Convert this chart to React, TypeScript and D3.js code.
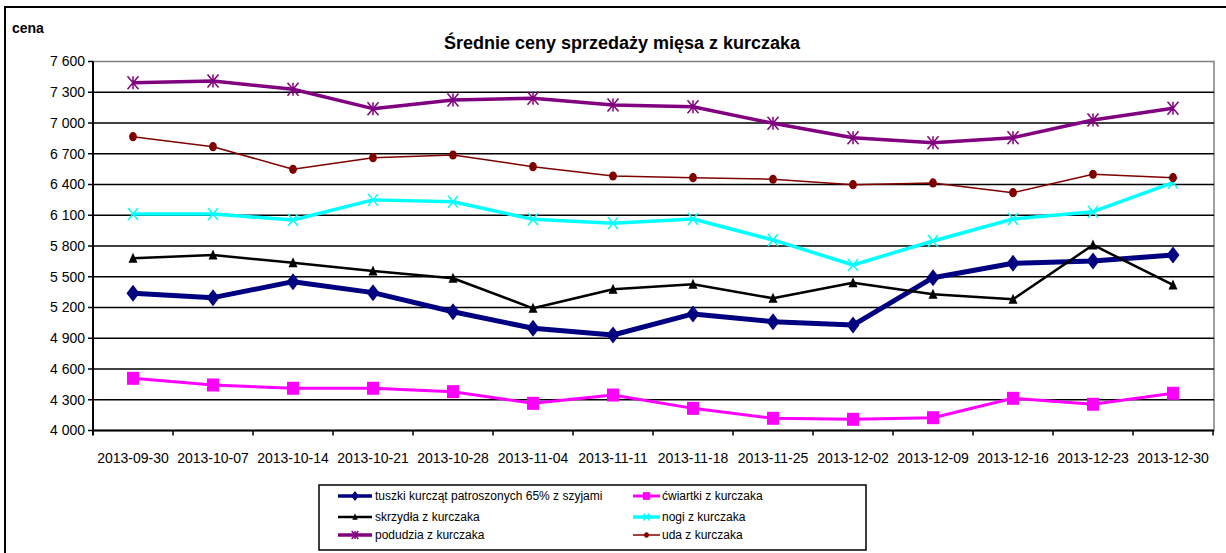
import React from "react";
import { scaleBand, scaleLinear, line, range, format } from "d3";

// chart data
const dates = [
  "2013-09-30", "2013-10-07", "2013-10-14", "2013-10-21", "2013-10-28",
  "2013-11-04", "2013-11-11", "2013-11-18", "2013-11-25", "2013-12-02",
  "2013-12-09", "2013-12-16", "2013-12-23", "2013-12-30",
];
const tuszki = [5338, 5296, 5452, 5345, 5159, 4997, 4932, 5137, 5062, 5029, 5491, 5631, 5654, 5712];
const cwiartki = [4509, 4444, 4412, 4412, 4379, 4265, 4346, 4216, 4119, 4109, 4125, 4314, 4256, 4363];
const skrzydla = [5680, 5712, 5637, 5556, 5485, 5192, 5378, 5426, 5290, 5442, 5329, 5280, 5810, 5420];
const nogi = [6112, 6112, 6054, 6250, 6232, 6060, 6021, 6063, 5859, 5615, 5849, 6063, 6135, 6418];
const podudzia = [7393, 7410, 7329, 7140, 7225, 7241, 7176, 7159, 6997, 6857, 6808, 6857, 7029, 7143];
const uda = [6867, 6769, 6548, 6662, 6688, 6574, 6483, 6467, 6451, 6398, 6415, 6320, 6500, 6467];
const yTicks = range(4000, 7601, 300);

const seriesNames = [
  "tuszki kurcząt patroszonych 65% z szyjami",
  "ćwiartki z kurczaka",
  "skrzydła z kurczaka",
  "nogi z kurczaka",
  "podudzia z kurczaka",
  "uda z kurczaka",
];

const series = [
  { name: seriesNames[0], values: tuszki, color: "#000080", width: 5, marker: "diamond" },
  { name: seriesNames[1], values: cwiartki, color: "#FF00FF", width: 3, marker: "square" },
  { name: seriesNames[2], values: skrzydla, color: "#000000", width: 2.5, marker: "triangle" },
  { name: seriesNames[3], values: nogi, color: "#00FFFF", width: 3.5, marker: "x" },
  { name: seriesNames[4], values: podudzia, color: "#800080", width: 3.5, marker: "star" },
  { name: seriesNames[5], values: uda, color: "#800000", width: 1.5, marker: "circle" },
];

const W = 1226;
const H = 553;
const plot = { left: 93, right: 1214, top: 61.5, bottom: 430.5 };
const font = "'Liberation Sans', Arial, sans-serif";

const x = scaleBand().domain(dates).range([plot.left, 1213]);
const y = scaleLinear().domain([4000, 7600]).range([plot.bottom, plot.top]);
const fmt = (v) => format(",")(v).replace(/,/g, " ");

function Marker({ type, cx, cy, color, s = 1 }) {
  if (type === "diamond") {
    const w = 6.5 * s, h = 8.5 * s;
    return <path d={`M${cx},${cy - h}L${cx + w},${cy}L${cx},${cy + h}L${cx - w},${cy}Z`} fill={color} />;
  }
  if (type === "square") {
    const w = 6 * s, h = 6.5 * s;
    return <rect x={cx - w} y={cy - h} width={2 * w} height={2 * h} fill={color} />;
  }
  if (type === "triangle") {
    const w = 4.5 * s, h = 4.5 * s;
    return <path d={`M${cx},${cy - h - 1}L${cx + w},${cy + h}L${cx - w},${cy + h}Z`} fill={color} />;
  }
  if (type === "x") {
    const w = 5 * s, h = 6 * s;
    return (
      <path d={`M${cx - w},${cy - h}L${cx + w},${cy + h}M${cx - w},${cy + h}L${cx + w},${cy - h}`}
        stroke={color} strokeWidth={1.5} fill="none" />
    );
  }
  if (type === "star") {
    const w = 5.5 * s, h = 6.5 * s;
    return (
      <path d={`M${cx - w},${cy - h}L${cx + w},${cy + h}M${cx - w},${cy + h}L${cx + w},${cy - h}M${cx},${cy - h}L${cx},${cy + h}`}
        stroke={color} strokeWidth={1.5} fill="none" />
    );
  }
  return <ellipse cx={cx} cy={cy} rx={3.9 * s} ry={4.6 * s} fill={color} />;
}

const legendPos = [
  { lx1: 338, lx2: 372, tx: 375, cy: 496 },
  { lx1: 633, lx2: 660, tx: 662, cy: 496 },
  { lx1: 338, lx2: 372, tx: 375, cy: 517 },
  { lx1: 633, lx2: 660, tx: 662, cy: 517 },
  { lx1: 338, lx2: 372, tx: 375, cy: 535 },
  { lx1: 633, lx2: 660, tx: 662, cy: 535 },
];

export default function App() {
  const lineGen = line()
    .x((d, i) => x(dates[i]) + x.bandwidth() / 2)
    .y((d) => y(d));

  return (
    <svg width={W} height={H} style={{ position: "absolute", left: 0, top: 0, background: "#fff" }}
      fontFamily={font}>
      <rect x={0} y={0} width={W} height={H} fill="#fff" />
      {/* outer chart frame */}
      <rect x={5} y={7} width={1250} height={560} fill="none" stroke="#000" strokeWidth={2} />

      <text x={12} y={33} fontSize={14} fontWeight="bold">cena</text>
      <text x={622} y={49} fontSize={18} fontWeight="bold" textAnchor="middle">
        Średnie ceny sprzedaży mięsa z kurczaka
      </text>

      {/* plot area border */}
      <rect x={plot.left} y={plot.top} width={plot.right - plot.left} height={plot.bottom - plot.top}
        fill="none" stroke="#808080" strokeWidth={1.5} />

      {/* gridlines + y axis */}
      {yTicks.map((t) => (
        <g key={t}>
          {t > 4000 && t < 7600 && (
            <line x1={plot.left} x2={plot.right} y1={y(t)} y2={y(t)} stroke="#000" strokeWidth={1.5} />
          )}
          <line x1={plot.left - 5} x2={plot.left} y1={y(t)} y2={y(t)} stroke="#000" strokeWidth={1.5} />
          <text x={85} y={y(t)} dy="0.35em" fontSize={14} textAnchor="end" fill="#000">{fmt(t)}</text>
        </g>
      ))}
      <line x1={plot.left} x2={plot.left} y1={plot.top} y2={plot.bottom + 5} stroke="#000" strokeWidth={2} />
      <line x1={plot.left} x2={plot.right} y1={plot.bottom} y2={plot.bottom} stroke="#000" strokeWidth={2} />

      {/* x axis */}
      {dates.map((d) => (
        <g key={d}>
          <line x1={x(d) + x.bandwidth()} x2={x(d) + x.bandwidth()} y1={plot.bottom} y2={plot.bottom + 5}
            stroke="#000" strokeWidth={1.5} />
          <text x={x(d) + x.bandwidth() / 2} y={463} fontSize={14} textAnchor="middle">{d}</text>
        </g>
      ))}

      {/* series */}
      {series.map((s) => (
        <g key={s.name}>
          <path d={lineGen(s.values)} fill="none" stroke={s.color} strokeWidth={s.width}
            strokeLinejoin="round" />
          {s.values.map((v, i) => (
            <Marker key={i} type={s.marker} cx={x(dates[i]) + x.bandwidth() / 2} cy={y(v)} color={s.color} />
          ))}
        </g>
      ))}

      {/* legend */}
      <rect x={319} y={485} width={547} height={65} fill="#fff" stroke="#000" strokeWidth={1.5} />
      {series.map((s, i) => {
        const p = legendPos[i];
        return (
          <g key={s.name}>
            <line x1={p.lx1} x2={p.lx2} y1={p.cy} y2={p.cy} stroke={s.color} strokeWidth={Math.min(s.width, 3.5)} />
            <Marker type={s.marker} cx={(p.lx1 + p.lx2) / 2} cy={p.cy} color={s.color} s={0.6} />
            <text x={p.tx} y={p.cy} dy="0.35em" fontSize={12}>{s.name}</text>
          </g>
        );
      })}
    </svg>
  );
}
